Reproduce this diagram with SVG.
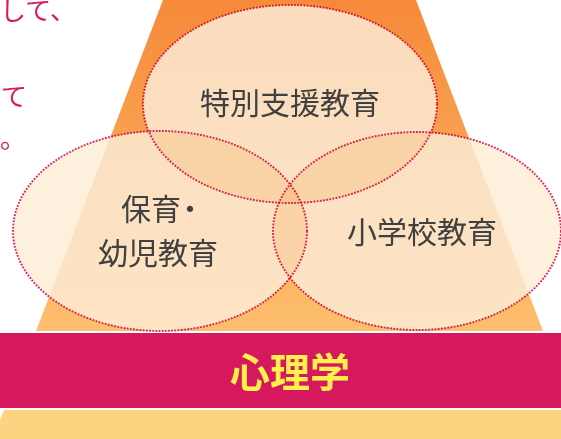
<svg xmlns="http://www.w3.org/2000/svg" width="561" height="439" viewBox="0 0 561 439">
  <defs>
    <linearGradient id="pyr" x1="0" y1="0" x2="0" y2="331" gradientUnits="userSpaceOnUse">
      <stop offset="0" stop-color="#F58A3A"/>
      <stop offset="1" stop-color="#FDBF6E"/>
    </linearGradient>
    <style>
      .lbl { font-family: "Noto Sans CJK JP", "Noto Sans", sans-serif; fill: #404040; font-size: 30px; }
      .side { font-family: "Noto Sans CJK JP", "Noto Sans", sans-serif; fill: #D81B60; font-size: 26px; }
      .circ { fill: rgb(253,240,220); mix-blend-mode: multiply; stroke: #E0245E; stroke-width: 1.9; stroke-dasharray: 1.8 1.4; }
      .glow { fill: #FFFFFF; }
    </style>
  </defs>

  <rect width="561" height="439" fill="#FFFFFF"/>

  <!-- side text (clipped at the left edge) -->
  <text class="side" x="0" y="20">して、</text>
  <text class="side" x="1" y="106">て</text>
  <text class="side" x="0" y="148">。</text>

  <!-- pyramid -->
  <polygon points="163,0 416,0 543,331 36,331" fill="url(#pyr)"/>
  <polygon points="4,410 570,410 580,439 -7,439" fill="#FDD380"/>

  <!-- band -->
  <g id="psychology">
    <rect x="0" y="333" width="561" height="75" fill="#D6195F"/>
    <text x="290" y="387" text-anchor="middle" font-family="'Noto Sans CJK JP', 'Noto Sans', sans-serif" font-weight="bold" font-size="40" fill="#FFF04C">心理学</text>
  </g>

  <!-- lightening layer under the circles -->
  <g opacity="0.82">
    <ellipse class="glow" cx="290" cy="104" rx="147" ry="99"/>
    <ellipse class="glow" cx="160" cy="231" rx="147" ry="100"/>
    <ellipse class="glow" cx="417" cy="231" rx="144" ry="99"/>
  </g>

  <g id="special-needs">
    <ellipse class="circ" cx="290" cy="104" rx="147" ry="99"/>
    <text class="lbl" x="290" y="114" text-anchor="middle" font-size="31">特別支援教育</text>
  </g>

  <g id="early-childhood">
    <ellipse class="circ" cx="160" cy="231" rx="147" ry="100"/>
    <text class="lbl" x="121" y="220">保育<tspan dx="-6">・</tspan></text>
    <text class="lbl" x="158" y="264" text-anchor="middle">幼児教育</text>
  </g>

  <g id="elementary">
    <ellipse class="circ" cx="417" cy="231" rx="144" ry="99"/>
    <text class="lbl" x="422" y="243" text-anchor="middle">小学校教育</text>
  </g>

  <g id="connectors"></g>
</svg>
